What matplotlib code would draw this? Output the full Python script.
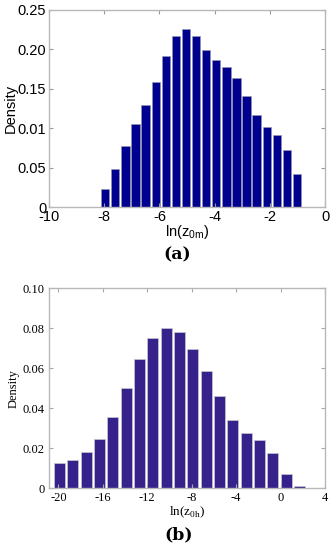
import matplotlib
matplotlib.use("Agg")
import matplotlib.pyplot as plt

# Panel (a)
a_centers = [-7.97, -7.60, -7.23, -6.87, -6.50, -6.13, -5.77, -5.40, -5.04, -4.67,
             -4.31, -3.94, -3.57, -3.21, -2.84, -2.48, -2.11, -1.74, -1.38, -1.01]
a_density = [0.023, 0.049, 0.078, 0.106, 0.130, 0.159, 0.191, 0.216, 0.225, 0.217,
             0.199, 0.186, 0.178, 0.163, 0.141, 0.117, 0.102, 0.091, 0.072, 0.042]
a_xticks = [-10, -8, -6, -4, -2, 0]
a_yticks = [0, 0.05, 0.10, 0.15, 0.20, 0.25]
a_yticklabels = ["0", "0.05", "0.01", "0.15", "0.20", "0.25"]

# Panel (b)
b_centers = [-19.9, -18.7, -17.5, -16.3, -15.1, -13.9, -12.7, -11.5, -10.3, -9.1,
             -7.9, -6.7, -5.5, -4.3, -3.1, -1.9, -0.7, 0.5, 1.7, 2.9]
b_density = [0.0128, 0.0142, 0.0180, 0.0245, 0.0355, 0.0500, 0.0647, 0.0750, 0.0800, 0.0783,
             0.0698, 0.0587, 0.0460, 0.0343, 0.0278, 0.0242, 0.0175, 0.0070, 0.0010, 0.0003]
b_xticks = [-20, -16, -12, -8, -4, 0, 4]
b_yticks = [0, 0.02, 0.04, 0.06, 0.08, 0.10]
b_yticklabels = ["0", "0.02", "0.04", "0.06", "0.08", "0.10"]

W, H = 333, 550
fig = plt.figure(figsize=(W / 100, H / 100), dpi=100)

spine_col = "#b8b8b8"

# ---- (a) ----
axa = fig.add_axes([49 / W, 1 - 207.5 / H, 276 / W, 198 / H])
axa.bar(a_centers, a_density, width=0.366 * 0.82, color="#000090",
        edgecolor="#9a9aa8", linewidth=0.4)
axa.set_xlim(-10, 0)
axa.set_ylim(0, 0.25)
axa.set_xticks(a_xticks)
axa.set_xticklabels([str(t) for t in a_xticks], family="Liberation Sans", fontsize=10.5)
axa.set_yticks(a_yticks)
axa.set_yticklabels(a_yticklabels, family="Liberation Sans", fontsize=10.5)
axa.tick_params(direction="in", top=True, right=True, length=3, color="#999999", pad=2)
for s in axa.spines.values():
    s.set_color(spine_col)
    s.set_linewidth(1.0)
axa.set_ylabel("Density", family="Liberation Sans", fontsize=10.5, labelpad=0)
axa.set_xlabel(r"ln(z$_{\mathregular{0m}}$)", family="Liberation Sans", fontsize=10.5, labelpad=-1)
fig.text(177 / W, 1 - 255 / H, "(a)", family="DejaVu Serif", fontweight="bold",
         fontsize=12.5, ha="center", va="center")

# ---- (b) ----
axb = fig.add_axes([48.5 / W, 1 - 488.3 / H, 276.5 / W, 200 / H])
axb.bar(b_centers, b_density, width=1.2 * 0.83, color="#36228a",
        edgecolor="#c8c8d0", linewidth=0.5)
axb.set_xlim(-20.9, 4)
axb.set_ylim(0, 0.10)
axb.set_xticks(b_xticks)
axb.set_xticklabels([str(t) for t in b_xticks], family="Liberation Serif", fontsize=9)
axb.set_yticks(b_yticks)
axb.set_yticklabels(b_yticklabels, family="Liberation Serif", fontsize=9)
axb.tick_params(direction="in", top=True, right=True, length=3, color="#aaaaaa", pad=3)
for s in axb.spines.values():
    s.set_color(spine_col)
    s.set_linewidth(1.0)
axb.set_ylabel("Density", family="Liberation Serif", fontsize=9, labelpad=2)
axb.set_xlabel(r"ln(z$_{\mathregular{0h}}$)", family="Liberation Serif", fontsize=9.5, labelpad=0)
fig.text(179 / W, 1 - 535 / H, "(b)", family="DejaVu Serif", fontweight="bold",
         fontsize=12.5, ha="center", va="center")

fig.savefig("out.png", dpi=100)
